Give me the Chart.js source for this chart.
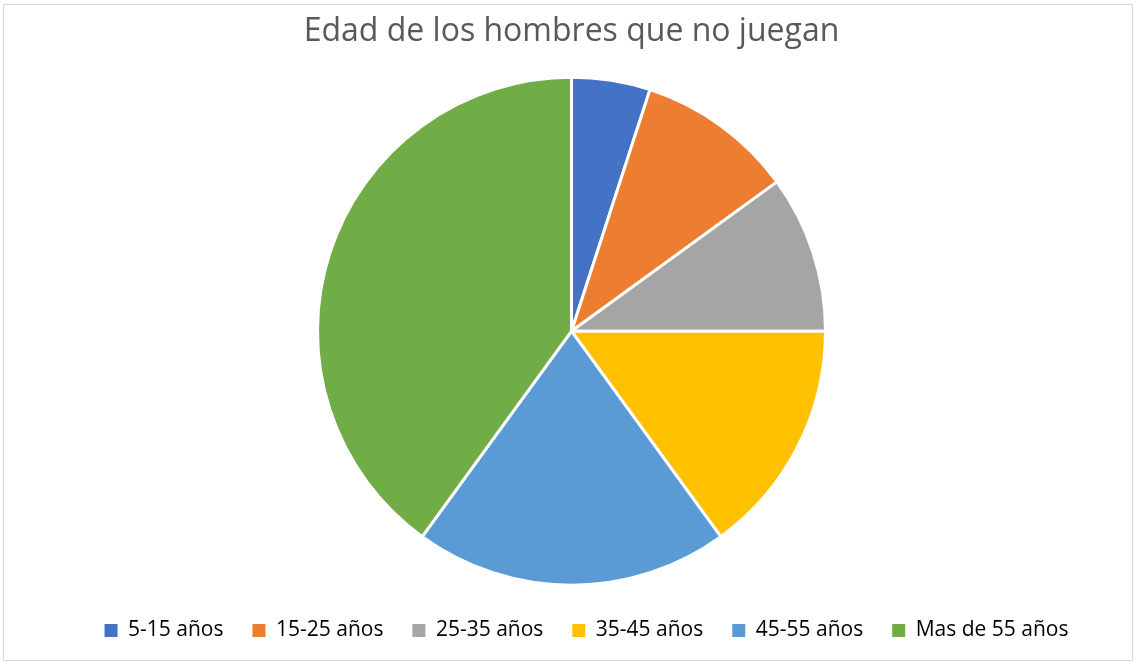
<!DOCTYPE html>
<html>
<head>
<meta charset="utf-8">
<script src="https://cdn.jsdelivr.net/npm/chart.js@4/dist/chart.umd.min.js"></script>
<style>
    html, body { margin: 0; padding: 0; background: #fff; }
    #wrap {
        position: absolute; left: 3px; top: 4px; width: 1130px; height: 657px;
        border: 1px solid #d9d9d9; box-sizing: border-box;
    }
    #box { position: absolute; left: 0; top: 0; width: 1137px; height: 665px; }
</style>
</head>
<body>
<div id="wrap"></div>
<div id="box"><canvas id="pieChart"></canvas></div>
<script>
// age groups and counts
const ageLabels = ['5-15 años', '15-25 años', '25-35 años', '35-45 años', '45-55 años', 'Mas de 55 años'];
const ageCounts = [1, 2, 2, 3, 4, 8];
const sliceColors = ['#4472C4', '#ED7D31', '#A5A5A5', '#FFC000', '#5B9BD5', '#70AD47'];

// legend sits a bit right of the pie centre in the original
const legendShift = {
    id: 'legendShift',
    afterLayout(chart) {
        if (chart.legend) {
            chart.legend.left += 15;
            chart.legend.right += 15;
        }
    }
};

const ctx = document.getElementById('pieChart').getContext('2d');
new Chart(ctx, {
    type: 'pie',
    data: {
        labels: ageLabels,
        datasets: [{
            data: ageCounts,
            backgroundColor: sliceColors,
            borderColor: '#ffffff',
            borderWidth: 3,
            radius: 254
        }]
    },
    options: {
        responsive: true,
        maintainAspectRatio: false,
        animation: false,
        layout: { padding: { top: 12, bottom: 14, left: 6 } },
        plugins: {
            title: {
                display: true,
                text: 'Edad de los hombres que no juegan',
                color: '#595959',
                font: { family: 'Open Sans', size: 32, weight: 'normal' },
                padding: { top: 1, bottom: 20 }
            },
            legend: {
                position: 'bottom',
                labels: {
                    color: '#595959',
                    font: { family: 'Open Sans', size: 21 },
                    boxWidth: 13,
                    boxHeight: 13,
                    padding: 29,
                    generateLabels: function(chart) {
                        return ageLabels.map((l, i) => ({
                            text: l,
                            fillStyle: sliceColors[i],
                            strokeStyle: sliceColors[i],
                            lineWidth: 0,
                            index: i
                        }));
                    }
                }
            },
            tooltip: { enabled: false }
        }
    },
    plugins: [legendShift]
});
</script>
</body>
</html>
